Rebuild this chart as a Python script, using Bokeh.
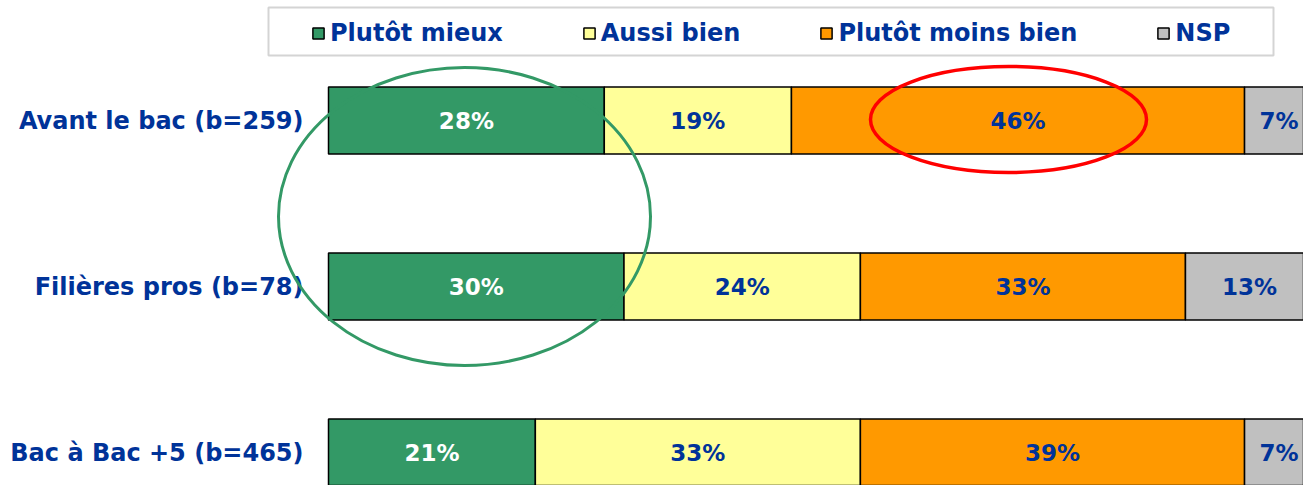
from bokeh.plotting import figure
from bokeh.models import ColumnDataSource, Range1d, Legend, LegendItem, BoxAnnotation
from bokeh.core.properties import value
from bokeh.embed import file_html
from bokeh.resources import INLINE
import numpy as np

# ---- data ----
categories = ["Avant le bac (b=259)", "Filières pros (b=78)", "Bac à Bac +5 (b=465)"]
series = ["Plutôt mieux", "Aussi bien", "Plutôt moins bien", "NSP"]
mieux = [28, 30, 21]
aussi = [19, 24, 33]
moins = [46, 33, 39]
nsp = [7, 13, 7]
colors = ["#339966", "#FFFF99", "#FF9900", "#C0C0C0"]
label_colors = ["#FFFFFF", "#003399", "#003399", "#003399"]

TEXT = "#003399"
FONT = "DejaVu Sans"

ypos = list(range(len(categories)))[::-1]
cols = ["mieux", "aussi", "moins", "nsp"]
data = dict(y=ypos, cat=categories, mieux=mieux, aussi=aussi, moins=moins, nsp=nsp)
source = ColumnDataSource(data)

W, H = 1303, 485
PX_PER_PCT = 9.85
x0 = -328 / PX_PER_PCT
PX_PER_ROW = 166
ytop = 2 + 120 / PX_PER_ROW

def px_x(px):
    return x0 + px / PX_PER_PCT

def px_y(py):
    return ytop - py / PX_PER_ROW

p = figure(width=W, height=H, output_backend="svg", toolbar_location=None,
           x_range=Range1d(x0, x0 + W / PX_PER_PCT),
           y_range=Range1d(ytop - H / PX_PER_ROW, ytop),
           min_border=0, outline_line_color=None)
p.xaxis.visible = False
p.yaxis.visible = False
p.grid.visible = False

bar_h = 67 / PX_PER_ROW
renderers = p.hbar_stack(cols, y="y", height=bar_h, color=colors, source=source,
                         line_color="black", line_width=1.5)

# value labels
vals = np.array([mieux, aussi, moins, nsp], dtype=float)
cum = np.cumsum(vals, axis=0)
starts = cum - vals
lx, ly, lt, lc = [], [], [], []
for s in range(len(series)):
    for i in range(len(categories)):
        lx.append(starts[s, i] + vals[s, i] / 2)
        ly.append(ypos[i])
        lt.append(f"{int(vals[s, i])}%")
        lc.append(label_colors[s])
p.text(x=lx, y=ly, text=lt, text_color=lc, text_align="center", text_baseline="middle",
       text_font=value(FONT), text_font_style="bold", text_font_size="23px")

# category labels
p.text(x=[px_x(303)] * len(categories), y=ypos, text=categories,
       text_color=TEXT, text_align="right", text_baseline="middle",
       text_font=value(FONT), text_font_style="bold", text_font_size="24px")

# highlight ellipses (annotations)
p.ellipse(x=[px_x(464)], y=[px_y(216)], width=[372 / PX_PER_PCT],
          height=[298 / PX_PER_ROW], fill_alpha=0, line_color="#339966", line_width=3)
p.ellipse(x=[px_x(1008)], y=[px_y(119)], width=[276 / PX_PER_PCT],
          height=[106 / PX_PER_ROW], fill_alpha=0, line_color="#FF0000", line_width=3.5)

# legend box
box = BoxAnnotation(left=px_x(268), right=px_x(1273), top=px_y(7), bottom=px_y(55),
                    fill_alpha=0, line_color="#D4D4D4", line_width=2, line_alpha=1)
p.add_layout(box)

legend = Legend(items=[LegendItem(label=s, renderers=[r]) for s, r in zip(series, renderers)],
                orientation="horizontal", location=(311, 438),
                padding=0, spacing=79, glyph_width=14, glyph_height=14, label_standoff=5,
                label_text_font=FONT, label_text_font_style="bold", label_text_font_size="24px",
                label_text_color=TEXT, border_line_alpha=0, background_fill_alpha=0,
                label_height=24)
p.add_layout(legend, "center")

open("out.html", "w").write(file_html(p, INLINE))
